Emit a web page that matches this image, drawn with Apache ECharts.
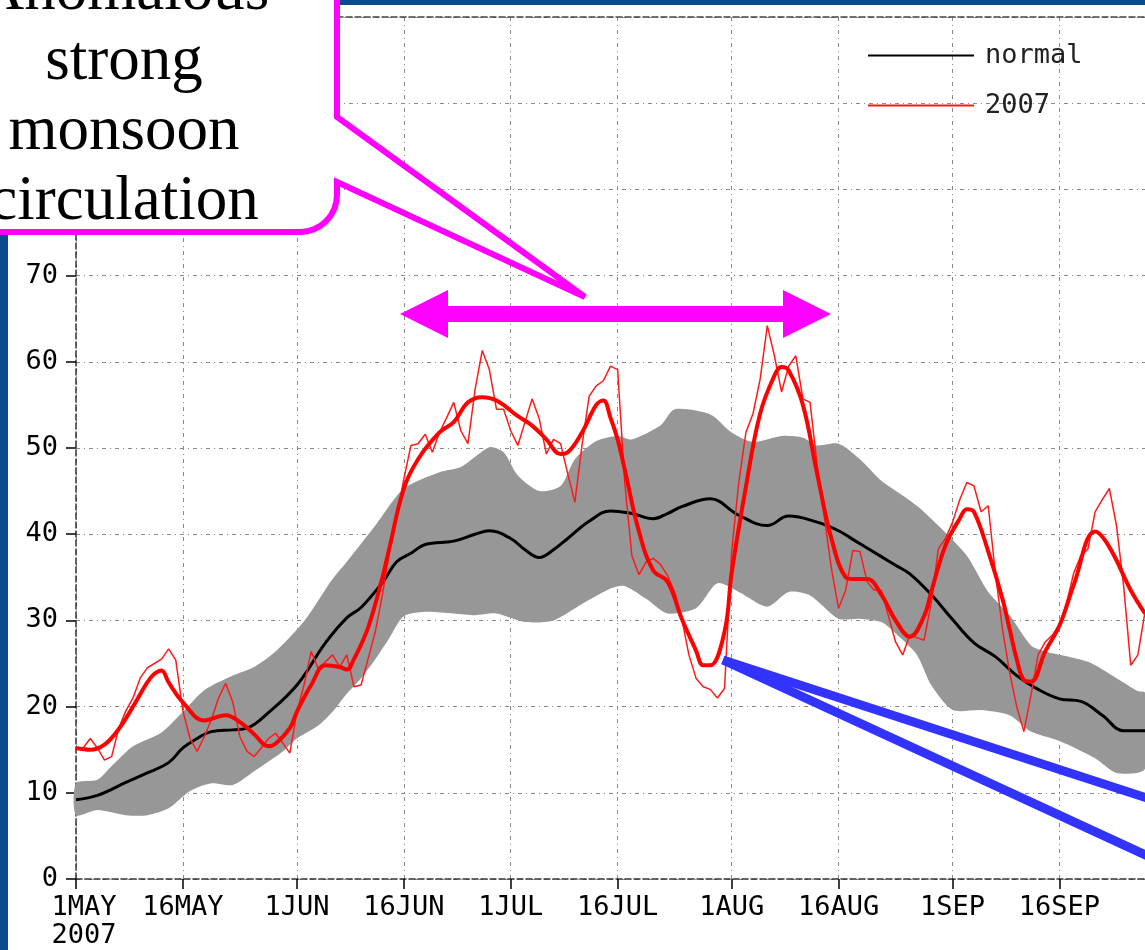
<!DOCTYPE html>
<html>
<head>
<meta charset="utf-8">
<title>Monsoon circulation index, 2007 vs normal</title>
<script src="https://cdn.jsdelivr.net/npm/echarts@6/dist/echarts.min.js"></script>
<style>
  html, body { margin: 0; padding: 0; background: #fff; }
  #chart { width: 1145px; height: 950px; }
</style>
</head>
<body>
<div id="chart"></div>
<script>
// x axis: one category per day, day 0 = 1 May 2007, day 150 = 28 Sep 2007 (right edge of the crop)
const startDate = new Date(2007, 4, 1)
const dayCount = 151
const monthNames = ['JAN', 'FEB', 'MAR', 'APR', 'MAY', 'JUN', 'JUL', 'AUG', 'SEP', 'OCT', 'NOV', 'DEC']
const tickDaysOfMonth = [1, 16]
const yearLabel = '2007'

// climatological normal, [day, value]
const normalLine = [
  [0, 9.2], [3, 9.7], [7, 11.2], [10, 12.3], [13, 13.5], [15, 15.2], [17, 16.3], [19, 17.1],
  [22, 17.3], [24, 17.5], [27, 19.3], [31, 22.5], [35, 27.4], [38, 30.3], [40, 31.5], [43, 34.4],
  [45, 36.8], [47, 37.8], [49, 38.8], [53, 39.2], [56, 40.0], [58, 40.4], [61, 39.5], [63, 38.2],
  [65, 37.3], [67, 38.2], [69, 39.5], [72, 41.5], [75, 42.7], [78, 42.4], [81, 41.8], [83, 42.4],
  [85, 43.2], [89, 44.1], [93, 42.2], [97, 41.0], [100, 42.1], [104, 41.4], [107, 40.4], [109, 39.4],
  [113, 37.4], [115, 36.4], [117, 35.4], [120, 33.0], [123, 30.1], [126, 27.4], [129, 25.8], [132, 23.6],
  [135, 22.0], [138, 20.9], [141, 20.6], [144, 19.0], [147, 17.2], [150, 17.2]
]

// spread of the normal (grey band), upper and lower edges
const bandUpper = [
  [0, 11.1], [3, 11.5], [5, 13.1], [8, 15.4], [12, 17.0], [15, 19.4], [18, 21.9], [22, 23.6],
  [25, 24.6], [28, 26.4], [32, 29.9], [36, 34.8], [38, 36.8], [42, 41.0], [46, 45.3], [51, 47.2],
  [54, 47.8], [58, 50.1], [60, 49.5], [62, 46.8], [65, 45.0], [68, 45.6], [70, 48.7], [73, 50.8],
  [76, 51.4], [78, 51.0], [82, 52.6], [84, 54.5], [89, 53.9], [92, 51.8], [95, 50.7], [99, 51.4],
  [102, 51.2], [104, 50.3], [107, 50.5], [110, 48.7], [113, 46.2], [116, 44.5], [118, 43.3], [121, 41.0],
  [125, 37.5], [128, 33.3], [131, 30.6], [134, 27.1], [136, 26.4], [142, 25.2], [146, 23.3], [149, 21.8],
  [150, 21.6]
]
const bandLower = [
  [0, 7.4], [3, 8.0], [7, 7.4], [10, 7.4], [13, 8.2], [16, 10.2], [19, 11.1], [22, 10.9],
  [25, 12.5], [29, 14.8], [31, 16.3], [34, 17.8], [36, 19.4], [38, 21.5], [40, 23.3], [42, 25.5],
  [44, 28.0], [46, 30.5], [49, 31.0], [53, 30.8], [56, 30.6], [59, 30.8], [63, 29.8], [67, 30.0],
  [71, 31.9], [75, 33.7], [77, 34.0], [80, 32.5], [83, 30.8], [87, 31.4], [90, 34.3], [93, 33.3],
  [97, 31.6], [100, 33.3], [103, 32.9], [107, 30.2], [110, 30.2], [113, 29.8], [115, 28.5], [118, 26.0],
  [120, 22.5], [123, 19.6], [127, 19.6], [131, 19.0], [134, 17.1], [138, 16.0], [143, 14.0], [146, 12.3],
  [150, 12.8]
]

// 2007, smoothed (thick red), [day, value]
const red2007Smooth = [
  [0, 15.2], [2, 15.0], [4, 15.6], [6, 17.4], [8, 20.0], [10, 22.8], [11, 23.8], [12, 24.2],
  [13, 22.8], [15, 20.5], [18, 18.4], [21, 19.0], [23, 18.2], [25, 16.8], [27, 15.4], [28, 15.7],
  [30, 17.5], [31, 19.4], [33, 22.5], [35, 24.8], [37, 24.6], [38, 24.3], [39, 25.5], [41, 29.2],
  [43, 35.0], [44, 38.5], [46, 45.3], [48, 48.7], [51, 51.8], [53, 53.0], [55, 55.3], [57, 55.9],
  [59, 55.5], [62, 53.7], [64, 52.6], [66, 51.0], [68, 49.3], [69, 49.5], [71, 51.8], [73, 55.0],
  [74, 55.5], [75, 53.5], [76, 51.0], [77, 47.5], [79, 40.3], [81, 35.8], [83, 34.5], [85, 30.2],
  [87, 26.5], [88, 24.8], [89, 24.8], [91, 28.7], [92, 35.5], [94, 45.5], [96, 54.0], [98, 58.4],
  [99, 59.4], [100, 59.0], [102, 55.0], [104, 47.0], [106, 39.5], [108, 35.0], [109, 34.8], [111, 34.8],
  [113, 33.0], [115, 30.0], [117, 28.1], [119, 30.5], [120, 33.3], [122, 38.7], [124, 41.8], [125, 42.9],
  [126, 42.6], [128, 38.0], [130, 32.5], [131, 29.0], [132, 25.5], [133, 23.1], [134, 22.9], [136, 26.4],
  [138, 29.4], [140, 34.1], [143, 40.3], [145, 38.5], [148, 33.5], [150, 30.8]
]

// 2007, daily (thin red), one value per day from day 0
const red2007Daily = [
  15.2, 15.2, 16.3, 15.2, 13.8, 14.2, 17.5, 19.5, 21.0, 23.3,
  24.5, 25.0, 25.5, 26.7, 25.4, 19.5, 16.3, 14.8, 16.5, 18.5,
  21.0, 22.7, 20.5, 16.5, 14.8, 14.2, 15.2, 16.3, 16.9, 15.8,
  14.6, 19.4, 22.5, 26.4, 24.4, 25.2, 26.0, 24.6, 26.0, 22.3,
  22.5, 25.6, 28.7, 33.0, 38.0, 42.0, 46.4, 50.3, 50.5, 51.6,
  49.5, 51.8, 53.5, 55.3, 52.0, 50.5, 56.8, 61.3, 59.1, 54.5,
  54.5, 52.0, 50.3, 53.0, 55.7, 53.4, 49.3, 51.0, 50.5, 47.0,
  43.7, 50.3, 56.0, 57.2, 57.8, 59.5, 59.1, 46.0, 37.5, 35.3,
  36.8, 37.2, 36.5, 35.2, 33.3, 30.2, 26.0, 23.3, 22.3, 22.0,
  21.0, 22.1, 38.0, 46.0, 51.8, 54.0, 58.0, 64.2, 60.7, 56.5,
  59.5, 60.7, 55.7, 55.3, 48.0, 42.0, 36.0, 31.4, 33.5, 38.1,
  38.0, 34.5, 33.5, 33.5, 30.5, 27.5, 26.0, 28.3, 28.0, 27.7,
  32.0, 38.3, 39.5, 41.4, 44.0, 46.0, 45.6, 42.6, 43.3, 35.5,
  29.0, 24.0, 20.0, 17.1, 21.3, 26.0, 27.5, 28.3, 29.5, 32.0,
  35.5, 37.5, 38.3, 42.6, 44.0, 45.3, 41.0, 34.0, 24.8, 26.0,
  31.0
]

const axisFont = '"DejaVu Sans Mono"'

const dayDates = []
const dayLabels = []
for (let i = 0; i < dayCount; i++) {
  const d = new Date(startDate.getTime())
  d.setDate(startDate.getDate() + i)
  dayDates.push(d)
  dayLabels.push(d.getDate() + monthNames[d.getMonth()])
}
const isTickDay = (index) => tickDaysOfMonth.indexOf(dayDates[index].getDate()) !== -1

const gridLine = { color: '#8a8a8a', width: 1, type: [4, 4, 1, 4] }

const chart = echarts.init(document.getElementById('chart'))

// speech-bubble outline with a rounded lower-right corner
const bubblePoints = [[-20, -20], [337, -20], [337, 117], [585, 297], [337, 182]]
for (let k = 0; k <= 8; k++) {
  const t = (k / 8) * Math.PI / 2
  bubblePoints.push([300 + 37 * Math.cos(t), 195 + 37 * Math.sin(t)])
}
bubblePoints.push([-20, 232])

const bubbleLines = ['Anomalous', 'strong', 'monsoon', 'circulation']

const option = {
  backgroundColor: '#fff',
  animation: false,
  grid: { left: 76, right: 0, top: 17, bottom: 69 },
  legend: {
    data: ['normal', '2007'],
    orient: 'vertical',
    left: 862,
    top: 37,
    itemWidth: 106,
    itemHeight: 10,
    itemGap: 23,
    selectedMode: false,
    itemStyle: { opacity: 0 },
    lineStyle: { width: 2 },
    textStyle: { fontFamily: axisFont, fontSize: 27, color: '#222', padding: [0, 0, 0, 6] }
  },
  xAxis: [
    {
      type: 'category',
      data: dayLabels,
      boundaryGap: false,
      axisLine: { show: true, onZero: false, lineStyle: { color: '#333', width: 1.5, type: [6, 3] } },
      axisTick: { show: true, interval: isTickDay, length: 10, lineStyle: { color: '#000', width: 1.5 } },
      axisLabel: {
        interval: isTickDay,
        fontFamily: axisFont,
        fontSize: 27,
        color: '#000',
        margin: 15,
        lineHeight: 28,
        formatter: (value, index) => index === 0 ? '{f|' + value + '}\n{f|' + yearLabel + '}' : value,
        rich: { f: { fontFamily: axisFont, fontSize: 27, color: '#000', lineHeight: 28, padding: [0, 0, 0, 16] } }
      },
      splitLine: { show: true, interval: isTickDay, lineStyle: gridLine }
    },
    {
      type: 'category',
      data: dayLabels,
      boundaryGap: false,
      position: 'top',
      axisLine: { show: true, onZero: false, lineStyle: { color: '#444', width: 1.5, type: [6, 3] } },
      axisTick: { show: false },
      axisLabel: { show: false },
      splitLine: { show: false }
    }
  ],
  yAxis: {
    type: 'value',
    min: 0,
    max: 100,
    interval: 10,
    axisLine: { show: true, lineStyle: { color: '#333', width: 1.5, type: [6, 3] } },
    axisTick: { show: true, length: 10, lineStyle: { color: '#000', width: 1.5 } },
    axisLabel: { fontFamily: axisFont, fontSize: 27, color: '#000', margin: 18 },
    splitLine: { show: true, lineStyle: gridLine }
  },
  series: [
    {
      name: 'band',
      type: 'custom',
      silent: true,
      z: 1,
      data: [[0, 0]],
      renderItem: (params, api) => {
        if (params.dataIndex !== 0) return null
        const upper = bandUpper.map(p => api.coord(p))
        const lower = bandLower.slice().reverse().map(p => api.coord(p))
        return {
          type: 'polygon',
          shape: { points: upper.concat(lower), smooth: 0.25 },
          style: { fill: '#979797' }
        }
      }
    },
    {
      name: 'normal',
      type: 'line',
      data: normalLine,
      symbol: 'none',
      smooth: 0.4,
      z: 3,
      lineStyle: { color: '#000', width: 3 },
      itemStyle: { color: '#000' }
    },
    {
      name: '2007',
      type: 'line',
      data: red2007Daily.map((v, i) => [i, v]),
      symbol: 'none',
      z: 4,
      lineStyle: { color: '#ff1a1a', width: 1.5 },
      itemStyle: { color: '#ff1a1a' }
    },
    {
      name: '2007',
      type: 'line',
      data: red2007Smooth,
      symbol: 'none',
      smooth: 0.4,
      z: 5,
      lineStyle: { color: '#ff0000', width: 4 },
      itemStyle: { color: '#ff0000' }
    }
  ],
  graphic: [
    { type: 'rect', z: 50, shape: { x: 0, y: 0, width: 8, height: 950 }, style: { fill: '#0b4a8c' } },
    { type: 'rect', z: 50, shape: { x: 0, y: 0, width: 1145, height: 5 }, style: { fill: '#0b4a8c' } },
    {
      type: 'polygon',
      z: 60,
      shape: { points: bubblePoints },
      style: { fill: '#fff', stroke: '#ff00ff', lineWidth: 6, lineJoin: 'miter' }
    }
  ].concat(bubbleLines.map((line, i) => ({
    type: 'text',
    z: 61,
    x: 124,
    y: -8 + i * 70,
    style: {
      text: line,
      font: '63px "Liberation Serif"',
      fill: '#000',
      textAlign: 'center',
      textVerticalAlign: 'middle'
    }
  }))).concat([
    {
      type: 'polygon',
      z: 60,
      shape: {
        points: [[400, 314], [448, 290], [448, 306], [783, 306], [783, 290], [831, 314],
          [783, 338], [783, 322], [448, 322], [448, 338]]
      },
      style: { fill: '#ff00ff' }
    },
    { type: 'line', z: 60, shape: { x1: 723, y1: 660, x2: 1150, y2: 799 }, style: { stroke: '#3333ff', lineWidth: 9 } },
    { type: 'line', z: 60, shape: { x1: 723, y1: 660, x2: 1150, y2: 857 }, style: { stroke: '#3333ff', lineWidth: 9 } }
  ])
}

chart.setOption(option)
</script>
</body>
</html>
